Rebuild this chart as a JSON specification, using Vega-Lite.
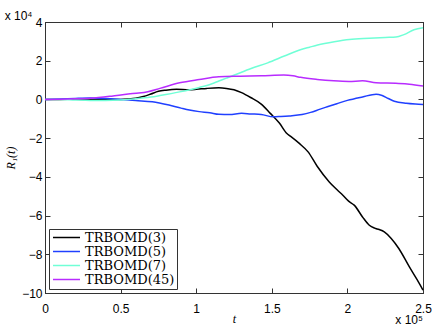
{
  "$schema": "https://vega.github.io/schema/vega-lite/v6.json",
  "width": 378,
  "height": 271,
  "autosize": "none",
  "padding": {"left": 45, "top": 22, "right": 13, "bottom": 34},
  "background": "white",
  "title": {"text": "x 10⁴", "anchor": "start", "font": "Liberation Sans", "fontSize": 12, "fontWeight": "normal", "color": "black", "offset": -7},
  "config": {
    "view": {"stroke": "#333333", "strokeWidth": 1},
    "axis": {"grid": false, "labelFlush": false, "labelOverlap": false, "labelFont": "Liberation Sans", "labelFontSize": 12, "labelColor": "black", "tickColor": "#333333", "domainColor": "#333333", "tickSize": -5, "labelPadding": 8, "titleFont": "Liberation Serif", "titleFontStyle": "italic", "titleFontWeight": "normal", "titleFontSize": 12, "titleColor": "black"}
  },
  "data": {"values": [
    {"s": "TRBOMD(3)", "t": 0, "R": 0}, {"s": "TRBOMD(3)", "t": 0.1, "R": 0}, {"s": "TRBOMD(3)", "t": 0.2, "R": 0.01}, {"s": "TRBOMD(3)", "t": 0.3, "R": -0.02}, {"s": "TRBOMD(3)", "t": 0.4, "R": 0}, {"s": "TRBOMD(3)", "t": 0.5, "R": 0}, {"s": "TRBOMD(3)", "t": 0.55, "R": 0.02}, {"s": "TRBOMD(3)", "t": 0.6, "R": 0.06}, {"s": "TRBOMD(3)", "t": 0.65, "R": 0.15}, {"s": "TRBOMD(3)", "t": 0.7, "R": 0.28}, {"s": "TRBOMD(3)", "t": 0.75, "R": 0.42}, {"s": "TRBOMD(3)", "t": 0.8, "R": 0.48}, {"s": "TRBOMD(3)", "t": 0.87, "R": 0.52}, {"s": "TRBOMD(3)", "t": 0.95, "R": 0.5}, {"s": "TRBOMD(3)", "t": 1.0, "R": 0.52}, {"s": "TRBOMD(3)", "t": 1.07, "R": 0.57}, {"s": "TRBOMD(3)", "t": 1.15, "R": 0.6}, {"s": "TRBOMD(3)", "t": 1.2, "R": 0.57}, {"s": "TRBOMD(3)", "t": 1.25, "R": 0.5}, {"s": "TRBOMD(3)", "t": 1.3, "R": 0.35}, {"s": "TRBOMD(3)", "t": 1.36, "R": 0.1}, {"s": "TRBOMD(3)", "t": 1.43, "R": -0.24}, {"s": "TRBOMD(3)", "t": 1.49, "R": -0.72}, {"s": "TRBOMD(3)", "t": 1.55, "R": -1.22}, {"s": "TRBOMD(3)", "t": 1.6, "R": -1.76}, {"s": "TRBOMD(3)", "t": 1.62, "R": -1.88}, {"s": "TRBOMD(3)", "t": 1.68, "R": -2.26}, {"s": "TRBOMD(3)", "t": 1.74, "R": -2.71}, {"s": "TRBOMD(3)", "t": 1.8, "R": -3.45}, {"s": "TRBOMD(3)", "t": 1.88, "R": -4.26}, {"s": "TRBOMD(3)", "t": 1.935, "R": -4.69}, {"s": "TRBOMD(3)", "t": 1.97, "R": -4.95}, {"s": "TRBOMD(3)", "t": 2.01, "R": -5.27}, {"s": "TRBOMD(3)", "t": 2.045, "R": -5.46}, {"s": "TRBOMD(3)", "t": 2.1, "R": -6.07}, {"s": "TRBOMD(3)", "t": 2.145, "R": -6.5}, {"s": "TRBOMD(3)", "t": 2.18, "R": -6.65}, {"s": "TRBOMD(3)", "t": 2.21, "R": -6.72}, {"s": "TRBOMD(3)", "t": 2.244, "R": -6.84}, {"s": "TRBOMD(3)", "t": 2.29, "R": -7.18}, {"s": "TRBOMD(3)", "t": 2.34, "R": -7.7}, {"s": "TRBOMD(3)", "t": 2.41, "R": -8.65}, {"s": "TRBOMD(3)", "t": 2.46, "R": -9.3}, {"s": "TRBOMD(3)", "t": 2.5, "R": -9.85},
    {"s": "TRBOMD(5)", "t": 0, "R": 0}, {"s": "TRBOMD(5)", "t": 0.1, "R": 0.02}, {"s": "TRBOMD(5)", "t": 0.2, "R": 0.05}, {"s": "TRBOMD(5)", "t": 0.3, "R": 0.07}, {"s": "TRBOMD(5)", "t": 0.4, "R": 0.05}, {"s": "TRBOMD(5)", "t": 0.5, "R": 0.0}, {"s": "TRBOMD(5)", "t": 0.6, "R": -0.06}, {"s": "TRBOMD(5)", "t": 0.71, "R": -0.12}, {"s": "TRBOMD(5)", "t": 0.82, "R": -0.29}, {"s": "TRBOMD(5)", "t": 0.9, "R": -0.45}, {"s": "TRBOMD(5)", "t": 0.955, "R": -0.55}, {"s": "TRBOMD(5)", "t": 1.02, "R": -0.63}, {"s": "TRBOMD(5)", "t": 1.09, "R": -0.69}, {"s": "TRBOMD(5)", "t": 1.15, "R": -0.77}, {"s": "TRBOMD(5)", "t": 1.22, "R": -0.78}, {"s": "TRBOMD(5)", "t": 1.3, "R": -0.72}, {"s": "TRBOMD(5)", "t": 1.36, "R": -0.75}, {"s": "TRBOMD(5)", "t": 1.43, "R": -0.78}, {"s": "TRBOMD(5)", "t": 1.51, "R": -0.9}, {"s": "TRBOMD(5)", "t": 1.56, "R": -0.88}, {"s": "TRBOMD(5)", "t": 1.615, "R": -0.85}, {"s": "TRBOMD(5)", "t": 1.7, "R": -0.78}, {"s": "TRBOMD(5)", "t": 1.757, "R": -0.67}, {"s": "TRBOMD(5)", "t": 1.82, "R": -0.5}, {"s": "TRBOMD(5)", "t": 1.867, "R": -0.38}, {"s": "TRBOMD(5)", "t": 1.93, "R": -0.22}, {"s": "TRBOMD(5)", "t": 2.0, "R": -0.05}, {"s": "TRBOMD(5)", "t": 2.1, "R": 0.13}, {"s": "TRBOMD(5)", "t": 2.19, "R": 0.27}, {"s": "TRBOMD(5)", "t": 2.23, "R": 0.2}, {"s": "TRBOMD(5)", "t": 2.27, "R": 0.05}, {"s": "TRBOMD(5)", "t": 2.31, "R": -0.09}, {"s": "TRBOMD(5)", "t": 2.39, "R": -0.2}, {"s": "TRBOMD(5)", "t": 2.45, "R": -0.24}, {"s": "TRBOMD(5)", "t": 2.5, "R": -0.26},
    {"s": "TRBOMD(7)", "t": 0, "R": 0}, {"s": "TRBOMD(7)", "t": 0.1, "R": 0}, {"s": "TRBOMD(7)", "t": 0.2, "R": -0.03}, {"s": "TRBOMD(7)", "t": 0.3, "R": -0.05}, {"s": "TRBOMD(7)", "t": 0.4, "R": -0.05}, {"s": "TRBOMD(7)", "t": 0.5, "R": -0.03}, {"s": "TRBOMD(7)", "t": 0.6, "R": 0.03}, {"s": "TRBOMD(7)", "t": 0.7, "R": 0.12}, {"s": "TRBOMD(7)", "t": 0.76, "R": 0.2}, {"s": "TRBOMD(7)", "t": 0.89, "R": 0.39}, {"s": "TRBOMD(7)", "t": 1.02, "R": 0.62}, {"s": "TRBOMD(7)", "t": 1.1, "R": 0.8}, {"s": "TRBOMD(7)", "t": 1.15, "R": 0.95}, {"s": "TRBOMD(7)", "t": 1.2, "R": 1.1}, {"s": "TRBOMD(7)", "t": 1.253, "R": 1.26}, {"s": "TRBOMD(7)", "t": 1.363, "R": 1.6}, {"s": "TRBOMD(7)", "t": 1.473, "R": 1.89}, {"s": "TRBOMD(7)", "t": 1.583, "R": 2.24}, {"s": "TRBOMD(7)", "t": 1.694, "R": 2.58}, {"s": "TRBOMD(7)", "t": 1.75, "R": 2.7}, {"s": "TRBOMD(7)", "t": 1.803, "R": 2.81}, {"s": "TRBOMD(7)", "t": 1.913, "R": 2.98}, {"s": "TRBOMD(7)", "t": 2.013, "R": 3.1}, {"s": "TRBOMD(7)", "t": 2.145, "R": 3.16}, {"s": "TRBOMD(7)", "t": 2.25, "R": 3.2}, {"s": "TRBOMD(7)", "t": 2.321, "R": 3.22}, {"s": "TRBOMD(7)", "t": 2.374, "R": 3.35}, {"s": "TRBOMD(7)", "t": 2.44, "R": 3.6}, {"s": "TRBOMD(7)", "t": 2.5, "R": 3.7},
    {"s": "TRBOMD(45)", "t": 0, "R": 0}, {"s": "TRBOMD(45)", "t": 0.1, "R": 0.01}, {"s": "TRBOMD(45)", "t": 0.2, "R": 0.03}, {"s": "TRBOMD(45)", "t": 0.3, "R": 0.06}, {"s": "TRBOMD(45)", "t": 0.44, "R": 0.17}, {"s": "TRBOMD(45)", "t": 0.55, "R": 0.28}, {"s": "TRBOMD(45)", "t": 0.62, "R": 0.33}, {"s": "TRBOMD(45)", "t": 0.68, "R": 0.4}, {"s": "TRBOMD(45)", "t": 0.76, "R": 0.57}, {"s": "TRBOMD(45)", "t": 0.89, "R": 0.86}, {"s": "TRBOMD(45)", "t": 1.02, "R": 1.03}, {"s": "TRBOMD(45)", "t": 1.15, "R": 1.17}, {"s": "TRBOMD(45)", "t": 1.29, "R": 1.2}, {"s": "TRBOMD(45)", "t": 1.43, "R": 1.22}, {"s": "TRBOMD(45)", "t": 1.58, "R": 1.26}, {"s": "TRBOMD(45)", "t": 1.64, "R": 1.22}, {"s": "TRBOMD(45)", "t": 1.69, "R": 1.14}, {"s": "TRBOMD(45)", "t": 1.8, "R": 1.03}, {"s": "TRBOMD(45)", "t": 1.91, "R": 0.96}, {"s": "TRBOMD(45)", "t": 2.01, "R": 0.93}, {"s": "TRBOMD(45)", "t": 2.1, "R": 0.96}, {"s": "TRBOMD(45)", "t": 2.19, "R": 0.86}, {"s": "TRBOMD(45)", "t": 2.32, "R": 0.83}, {"s": "TRBOMD(45)", "t": 2.41, "R": 0.79}, {"s": "TRBOMD(45)", "t": 2.5, "R": 0.69}
  ]},
  "layer": [
    {
      "mark": {"type": "line", "interpolate": "monotone", "strokeWidth": 1.5},
      "encoding": {
        "x": {"field": "t", "type": "quantitative", "scale": {"domain": [0, 2.5], "nice": false, "zero": false}, "axis": {"orient": "bottom", "values": [0, 0.5, 1, 1.5, 2, 2.5], "format": "~g", "title": "t", "titlePadding": -1, "labelPadding": 15}},
        "y": {"field": "R", "type": "quantitative", "scale": {"domain": [-10, 4], "nice": false, "zero": false}, "axis": {"orient": "left", "values": [-10, -8, -6, -4, -2, 0, 2, 4], "title": "R₁(t)", "titlePadding": 4}},
        "color": {"field": "s", "type": "nominal", "scale": {"domain": ["TRBOMD(3)", "TRBOMD(5)", "TRBOMD(7)", "TRBOMD(45)"], "range": ["#000000", "#2040ff", "#70ffd6", "#b82cff"]},
          "legend": {"title": null, "orient": "bottom-left", "offset": 4, "padding": 2, "strokeColor": "#333333", "fillColor": "white", "symbolType": "M-1,0L5,0", "symbolSize": 81, "symbolStrokeWidth": 1.5, "labelFont": "DejaVu Serif", "labelFontSize": 13, "labelColor": "black", "rowPadding": 0, "labelOffset": 21}}
      }
    },
    {
      "mark": {"type": "line", "opacity": 0},
      "encoding": {
        "x": {"field": "t", "type": "quantitative", "scale": {"domain": [0, 2.5], "nice": false, "zero": false}, "axis": {"orient": "top", "values": [0, 0.5, 1, 1.5, 2, 2.5], "labels": false, "title": null}},
        "y": {"field": "R", "type": "quantitative", "scale": {"domain": [-10, 4], "nice": false, "zero": false}, "axis": {"orient": "right", "values": [-10, -8, -6, -4, -2, 0, 2, 4], "labels": false, "title": null}}
      }
    },
    {
      "data": {"values": [{"label": "x 10⁵"}]},
      "mark": {"type": "text", "align": "right", "baseline": "alphabetic", "dy": 31, "font": "Liberation Sans", "fontSize": 12, "color": "black"},
      "encoding": {
        "x": {"datum": 2.5, "type": "quantitative", "axis": null},
        "y": {"datum": -10, "type": "quantitative", "axis": null},
        "text": {"field": "label"}
      }
    }
  ],
  "resolve": {"axis": {"x": "independent", "y": "independent"}}
}
